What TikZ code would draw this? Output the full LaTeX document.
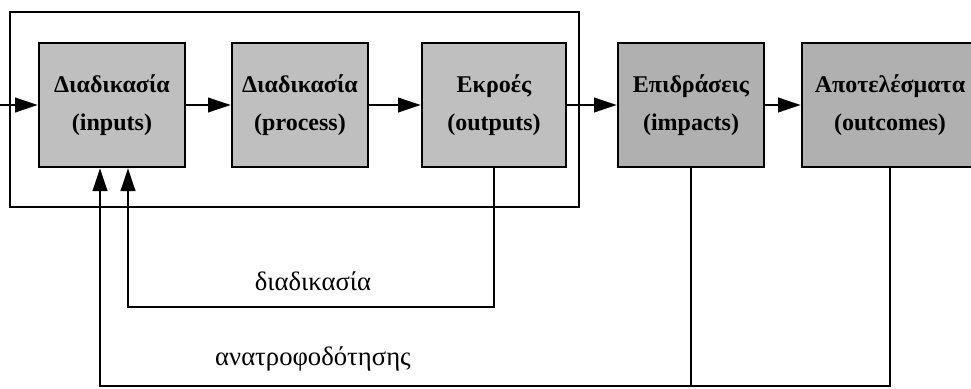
\documentclass[tikz,border=0pt]{standalone}
\usepackage{fontspec}
\setmainfont{Liberation Serif}
\usepackage{tikz}
\usetikzlibrary{arrows.meta}

\begin{document}
\begin{tikzpicture}[x=0.75pt,y=0.75pt,yscale=-1,xscale=1,
    stage/.style={draw, line width=2pt, fill=gray!50, align=center, inner sep=0pt,
        minimum height=93pt, font=\fontsize{18}{28.5}\selectfont\bfseries},
    late/.style={stage, fill=gray!62},
    arr/.style={line width=1.4pt, -{Triangle[length=17pt,width=11pt]}},
    ln/.style={line width=1.4pt}]
        \useasboundingbox (0,0) rectangle (971,389);
        \draw [ln] (10,12) rectangle (579,207);

        \node [stage, minimum width=109.5pt] (inp) at (112,105) {Διαδικασία\\(inputs)};
        \node [stage, minimum width=102pt] (proc) at (300,105) {Διαδικασία\\(process)};
        \node [stage, minimum width=108pt] (outp) at (494,105) {Εκροές\\(outputs)};
        \node [late, minimum width=109.5pt] (imp) at (691,105) {Επιδράσεις\\(impacts)};
        \node [late, minimum width=132pt] (res) at (890,105) {Αποτελέσματα\\(outcomes)};

        \coordinate (src) at (0,105);
        \coordinate (fb1) at (128,307);
        \coordinate (fb2) at (100,386);

        \draw [arr] (src) -- (inp.west);
        \draw [arr] (inp) -- (proc);
        \draw [arr] (proc) -- (outp);
        \draw [arr] (outp) -- (imp);
        \draw [arr] (imp) -- (res);

        \draw [arr] (outp.south) |- (fb1) -- (fb1 |- inp.south);
        \draw [arr] (res.south) |- (fb2) -- (fb2 |- inp.south);
        \draw [ln] (imp.south) -- (imp.south |- fb2);

        \node [font=\fontsize{20}{24}\selectfont] (lbl1) at (313,281) {διαδικασία};
        \node [font=\fontsize{20}{24}\selectfont] (lbl2) at (313,359) {ανατροφοδότησης};
\end{tikzpicture}
\end{document}
